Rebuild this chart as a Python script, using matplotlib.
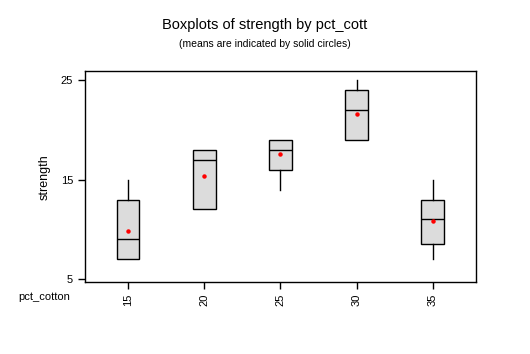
import matplotlib
matplotlib.use("Agg")
import matplotlib.pyplot as plt

plt.rcParams['font.family'] = ['Liberation Sans', 'DejaVu Sans']

# cotton percentage groups and box statistics
groups = ["15", "20", "25", "30", "35"]
q1 = [7, 12, 16, 19, 8.5]
med = [9, 17, 18, 22, 11]
q3 = [13, 18, 19, 24, 13]
lo = [7, 12, 14, 19, 7]
hi = [15, 18, 19, 25, 15]
means = [9.8, 15.4, 17.6, 21.6, 10.8]

stats = []
for i in range(len(groups)):
    stats.append({"q1": q1[i], "med": med[i], "q3": q3[i],
                  "whislo": lo[i], "whishi": hi[i], "fliers": []})

fig = plt.figure(figsize=(5.3, 3.54), dpi=100)
ax = fig.add_axes([0.160, 0.203, 0.738, 0.596])

pos = list(range(1, len(groups) + 1))
ax.bxp(stats, positions=pos, widths=0.30, patch_artist=True, showcaps=False,
       boxprops=dict(facecolor="#dcdcdc", edgecolor="black", linewidth=1.0),
       medianprops=dict(color="black", linewidth=1.0),
       whiskerprops=dict(color="black", linewidth=1.0))
ax.plot(pos, means, "o", color="red", markersize=2.2, zorder=5)

ax.set_xlim(0.434, 5.566)
ax.set_ylim(4.7, 25.9)
ax.set_yticks([5, 15, 25])
ax.set_xticks(pos)
ax.set_xticklabels(groups, rotation=90)
ax.tick_params(direction="out", length=5, width=1, labelsize=8)
for s in ax.spines.values():
    s.set_linewidth(1.0)

ax.set_ylabel("strength", fontsize=9, labelpad=7)
fig.text(18 / 530, 1 - 297 / 354, "pct_cotton", fontsize=8, va="center", ha="left")
fig.text(0.5, 1 - 25 / 354, "Boxplots of strength by pct_cott", fontsize=10.5,
         ha="center", va="center")
fig.text(0.5, 1 - 44 / 354, "(means are indicated by solid circles)", fontsize=7.5,
         ha="center", va="center")

plt.savefig("out.png", dpi=100)
